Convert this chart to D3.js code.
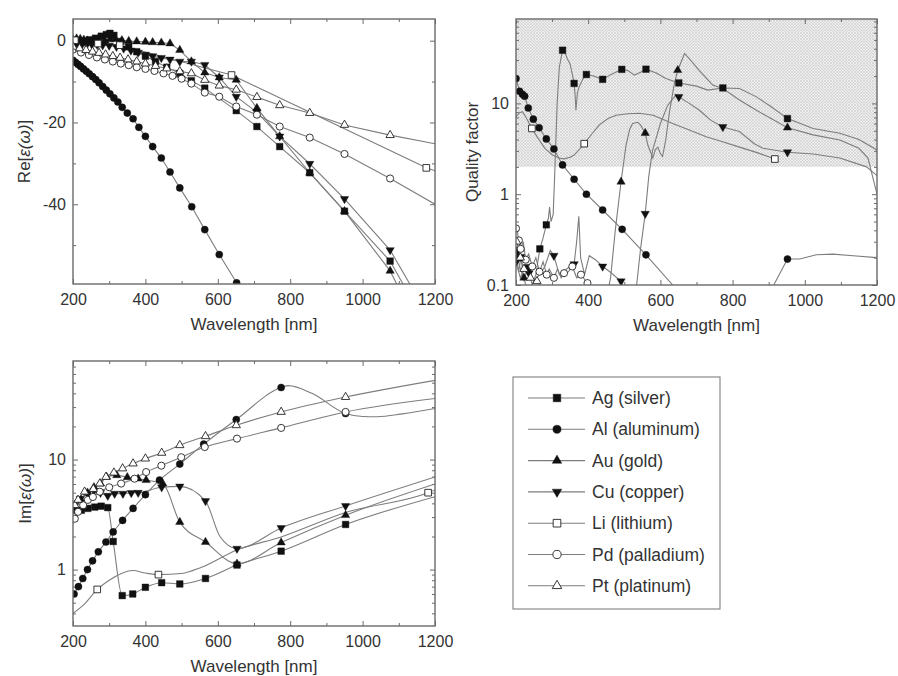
<!DOCTYPE html>
<html>
<head>
<meta charset="utf-8">
<script src="https://cdn.jsdelivr.net/npm/d3@7"></script>
<style>
  body { margin: 0; background: #fff; }
  svg text { font-family: "Liberation Sans", Arial, Helvetica, sans-serif; fill: #333; }
</style>
</head>
<body>
<svg id="chart" width="898" height="676"></svg>
<script>
// ---- labels & ticks ----
const metals = ["Ag (silver)", "Al (aluminum)", "Au (gold)", "Cu (copper)", "Li (lithium)", "Pd (palladium)", "Pt (platinum)"];
const symbols = ["square", "circle", "triangle", "triangleDown", "squareOpen", "circleOpen", "triangleOpen"];
const wavelengthTicks = [200, 400, 600, 800, 1000, 1200];
const reTicks = [0, -20, -40];
const qTicks = [0.1, 1, 10];
const imTicks = [1, 10];

// ---- Re[eps] : markers (mk) and extra line points (ex) ----
const reAgMk = [[200,-0.6],[214,-0.4],[229,-0.1],[245,0.2],[262,0.6],[278,1.1],[292,1.5],[302,1.8],[313,1.3],[330,-0.2],[354,-1.5],[376,-2.7],[400,-3.8],[428,-5.1],[459,-6.5],[495,-8.0],[527,-9.8],[564,-11.6],[651,-17.1],[708,-21.0],[771,-25.9],[854,-32.3],[950,-41.7],[1076,-53.9]];
const reAgEx = [[1140,-64]];
const reAlMk = [[200,-4.8],[207,-5.3],[214,-5.8],[221,-6.3],[229,-6.9],[237,-7.5],[245,-8.1],[254,-8.8],[263,-9.5],[272,-10.3],[282,-11.2],[292,-12.1],[302,-13.0],[313,-14.0],[324,-15.0],[336,-16.3],[350,-17.7],[366,-19.1],[382,-21.2],[400,-23.4],[420,-25.9],[444,-28.7],[468,-32.1],[495,-36.0],[528,-40.6],[564,-46.2],[604,-52.3],[652,-59.2]];
const reAlEx = [[700,-68]];
const reAuMk = [[200,0.3],[210,0.5],[220,0.4],[230,0.2],[240,0.0],[250,-0.2],[262,-0.3],[275,-0.2],[288,0.0],[302,0.3],[317,0.4],[335,0.1],[354,-0.1],[376,-0.2],[400,-0.3],[420,-0.4],[444,-0.5],[468,-0.7],[495,-2.3],[527,-5.1],[564,-7.8],[604,-9.0],[651,-9.6],[708,-16.5],[771,-23.4],[854,-32.3],[950,-41.7],[1076,-56.3]];
const reAuEx = [[1120,-64]];
const reCuMk = [[200,-0.9],[212,-0.8],[225,-0.9],[238,-1.0],[252,-0.9],[267,-1.0],[282,-1.1],[300,-1.2],[320,-1.5],[340,-1.9],[360,-2.4],[380,-2.9],[400,-3.4],[420,-3.8],[444,-4.2],[468,-4.6],[495,-5.1],[527,-5.1],[564,-5.9],[604,-9.0],[651,-13.7],[708,-17.5],[771,-23.4],[854,-30.1],[950,-38.7],[1076,-51.2]];
const reCuEx = [[1160,-64]];
const reLiMk = [[205,0.1],[269,-0.7],[329,-1.1],[638,-8.4],[1176,-31.1]];
const reLiEx = [[1200,-31.8]];
const rePdMk = [[200,-2.2],[222,-2.9],[244,-3.5],[266,-4.1],[288,-4.6],[310,-5.1],[332,-5.6],[354,-6.0],[376,-6.5],[400,-6.9],[425,-7.4],[450,-8.0],[475,-8.6],[500,-9.3],[527,-10.5],[564,-12.7],[604,-13.7],[651,-16.1],[708,-18.1],[771,-21.0],[854,-23.7],[950,-27.7],[1076,-33.7]];
const rePdEx = [[1200,-40.0]];
const rePtMk = [[200,-1.5],[218,-1.9],[236,-2.3],[254,-2.7],[272,-3.0],[290,-3.4],[310,-3.8],[330,-4.2],[352,-4.6],[376,-5.1],[400,-5.6],[428,-6.2],[459,-6.8],[495,-7.5],[527,-8.0],[564,-9.6],[604,-11.0],[651,-12.0],[708,-13.8],[771,-15.8],[854,-17.7],[950,-20.6],[1076,-23.1]];
const rePtEx = [[1200,-25.2]];

// ---- Quality factor ----
const qAgMk = [[200,0.24],[214,0.2],[232,0.155],[266,0.25],[284,0.46],[329,38.5],[361,16.6],[395,20.8],[440,18.4],[493,23.7],[560,23.8],[651,16.8],[773,14.8],[952,6.8]];
const qAgEx = [[207,0.14],[222,0.11],[245,0.1],[255,0.13],[275,0.33],[290,0.55],[293,0.72],[297,0.5],[303,0.6],[308,2],[314,10],[320,25],[336,36],[342,31],[350,27],[357,20],[364,12],[366,8.4],[370,13],[375,15.2],[385,18.5],[415,20],[465,21],[510,23],[528,20.5],[545,22],[590,21.5],[615,18.8],[700,15.5],[731,14.0],[819,14.6],[866,11.8],[910,9],[1023,5.3],[1097,4.7],[1150,4.0],[1200,3.07]];
const qAlMk = [[200,18.8],[210,13.6],[218,12.6],[224,12.0],[234,8.9],[248,6.7],[264,5.4],[284,4.06],[305,3.15],[329,2.1],[361,1.46],[395,1.0],[440,0.67],[494,0.41],[560,0.215],[952,0.193]];
const qAlEx = [[634,0.1],[660,0.07],[880,0.07],[914,0.1],[986,0.193],[1032,0.215],[1078,0.219],[1134,0.21],[1200,0.2]];
const qAuMk = [[205,0.2],[222,0.12],[491,1.37],[558,4.7],[648,23.2],[952,5.4]];
const qAuEx = [[200,0.25],[212,0.15],[230,0.09],[450,0.07],[462,0.12],[475,0.4],[505,3.5],[515,5.2],[523,6.0],[537,6.2],[545,5.8],[565,3.5],[579,2.5],[586,3.1],[593,3.3],[600,2.8],[606,2.6],[615,4],[625,8],[638,16],[667,35.5],[690,28],[708,23],[745,15.9],[773,14.6],[819,10.9],[866,8.4],[1023,4.5],[1097,3.95],[1150,3.2],[1175,2.5],[1200,1.0]];
const qCuMk = [[200,0.18],[236,0.135],[305,0.21],[361,0.17],[440,0.16],[491,0.11],[558,0.61],[651,11.8],[773,5.5],[952,2.9]];
const qCuEx = [[212,0.12],[222,0.15],[250,0.11],[265,0.13],[280,0.16],[295,0.24],[320,0.13],[340,0.15],[368,0.3],[374,0.57],[379,0.2],[390,0.13],[403,0.21],[420,0.19],[460,0.14],[505,0.08],[530,0.07],[545,0.25],[568,1.6],[578,3.0],[600,6],[620,9.5],[644,12.5],[680,10],[708,8.4],[740,6.5],[819,4.9],[860,3.6],[884,3.2],[1023,2.77],[1097,2.5],[1171,2.0],[1200,1.6]];
const qLiMk = [[244,5.3],[389,3.6],[917,2.44]];
const qLiEx = [[200,7.1],[210,7.9],[218,8.1],[228,7.0],[260,4.2],[280,3.2],[301,2.7],[320,2.5],[333,2.45],[350,2.55],[361,2.7],[375,3.1],[410,4.6],[431,5.8],[455,6.8],[477,7.4],[510,7.7],[542,7.8],[580,7.4],[634,6.0],[680,5.1],[727,4.3],[770,3.8],[819,3.3],[870,2.85]];
const qPdMk = [[200,0.42],[208,0.31],[213,0.25],[227,0.19],[245,0.16],[265,0.14],[285,0.13],[305,0.12],[333,0.135],[356,0.16],[380,0.13],[398,0.105]];
const qPdEx = [[204,0.38],[220,0.3],[235,0.22],[255,0.2],[275,0.18],[292,0.15],[315,0.15],[325,0.12],[345,0.14],[368,0.12],[415,0.09],[430,0.07]];
const qPtMk = [[202,0.3],[212,0.2],[222,0.15],[240,0.12],[258,0.11]];
const qPtEx = [[275,0.09],[290,0.07]];

// ---- Im[eps] ----
const imAgMk = [[205,3.46],[223,3.46],[241,3.6],[260,3.7],[278,3.77],[296,3.66],[311,1.8],[336,0.58],[365,0.6],[400,0.69],[445,0.76],[495,0.74],[566,0.83],[653,1.1],[775,1.47],[953,2.57]];
const imAgEx = [[200,3.2],[1200,4.6]];
const imAlMk = [[203,0.6],[215,0.7],[227,0.83],[240,1.0],[254,1.2],[270,1.45],[291,1.78],[311,2.2],[337,2.8],[366,3.6],[400,4.8],[439,6.5],[495,9.1],[561,13.8],[651,23.1],[775,45.2],[953,26.2]];
const imAlEx = [[200,0.57],[795,47],[860,40],[1000,24.6],[1040,24.5],[1110,26],[1200,29.1]];
const imAuMk = [[205,3.6],[222,4.3],[240,5.0],[258,5.6],[276,6.05],[293,6.95],[321,7.2],[350,6.9],[380,6.7],[402,6.5],[448,6.05],[495,2.7],[566,1.78],[653,1.13],[775,1.76],[953,3.12]];
const imAuEx = [[200,3.3],[1200,6.0]];
const imCuMk = [[205,3.8],[220,4.4],[240,4.9],[258,5.2],[276,5.0],[296,4.7],[315,4.9],[338,4.9],[361,4.98],[380,5.0],[445,5.6],[495,5.7],[566,4.2],[653,1.55],[775,2.39],[953,3.79]];
const imCuEx = [[200,3.6],[606,2.0],[1200,6.95]];
const imLiMk = [[267,0.66],[436,0.9],[1181,5.0]];
const imLiEx = [[200,0.4],[230,0.48],[300,0.8],[366,0.98],[400,0.93],[500,0.92],[555,1.05],[651,1.5],[775,1.98],[953,3.3],[1200,5.3]];
const imPdMk = [[205,2.9],[214,3.35],[228,3.85],[241,4.3],[255,4.57],[274,5.1],[300,5.6],[333,6.05],[370,6.7],[402,7.7],[444,8.8],[499,10.5],[564,13.0],[653,15.5],[775,19.4],[953,27.1]];
const imPdEx = [[200,2.6],[1200,35.9]];
const imPtMk = [[205,3.85],[214,4.3],[232,5.1],[256,5.4],[274,6.05],[291,6.95],[313,7.6],[337,8.3],[366,9.2],[400,10.2],[445,11.5],[495,13.5],[566,16.3],[651,20.5],[775,27.1],[953,37]];
const imPtEx = [[200,3.6],[1200,52.5]];

const reSeries = [[reAgMk, reAgEx], [reAlMk, reAlEx], [reAuMk, reAuEx], [reCuMk, reCuEx], [reLiMk, reLiEx], [rePdMk, rePdEx], [rePtMk, rePtEx]];
const qSeries = [[qAgMk, qAgEx], [qAlMk, qAlEx], [qAuMk, qAuEx], [qCuMk, qCuEx], [qLiMk, qLiEx], [qPdMk, qPdEx], [qPtMk, qPtEx]];
const imSeries = [[imAgMk, imAgEx], [imAlMk, imAlEx], [imAuMk, imAuEx], [imCuMk, imCuEx], [imLiMk, imLiEx], [imPdMk, imPdEx], [imPtMk, imPtEx]];

const svg = d3.select("#chart");
const defs = svg.append("defs");

// fine cross hatch for the Q > 2 band
const hatch = defs.append("pattern")
    .attr("id", "hatch")
    .attr("width", 3)
    .attr("height", 3)
    .attr("patternUnits", "userSpaceOnUse");
hatch.append("rect").attr("width", 3).attr("height", 3).attr("fill", "#efefef");
hatch.append("path").attr("d", "M0,0L3,3M3,0L0,3").attr("stroke", "#cacaca").attr("stroke-width", 0.6);

const lineColor = "#7d7d7d";
const frameColor = "#6a6a6a";

function drawMarker(sel, kind, scale) {
    const open = kind.endsWith("Open");
    const base = kind.replace("Open", "");
    let type = d3.symbolTriangle, size = 30;
    if (base === "square") { type = d3.symbolSquare; size = 44; }
    if (base === "circle") { type = d3.symbolCircle; size = 40; }
    sel.attr("d", d3.symbol(type, size * scale * scale)())
        .attr("fill", open ? "#fff" : "#111")
        .attr("stroke", open ? "#222" : "#111")
        .attr("stroke-width", open ? 0.9 : 0.4);
    return base === "triangleDown" ? " rotate(180)" : "";
}

function drawPanel(o) {
    const x = d3.scaleLinear().domain([200, 1200]).range([o.left, o.right]);
    const y = o.y;
    const g = svg.append("g");

    defs.append("clipPath").attr("id", "clip-" + o.id)
        .append("rect")
        .attr("x", o.left).attr("y", o.top)
        .attr("width", o.right - o.left).attr("height", o.bottom - o.top);

    if (o.shadeFrom) {
        g.append("rect")
            .attr("x", o.left).attr("y", o.top)
            .attr("width", o.right - o.left)
            .attr("height", y(o.shadeFrom) - o.top)
            .attr("fill", "url(#hatch)");
    }

    // axes, ticks pointing inward
    const xMinor = d3.range(300, 1200, 200);
    const addAxis = (axis, tx, ty, labels) => {
        const a = g.append("g").attr("transform", `translate(${tx},${ty})`).call(axis);
        a.select(".domain").remove();
        a.selectAll("line").attr("stroke", frameColor).attr("stroke-width", 1);
        a.selectAll("text").attr("font-size", 16);
        if (!labels) a.selectAll("text").remove();
        return a;
    };
    addAxis(d3.axisBottom(x).tickValues(wavelengthTicks).tickSizeInner(-5).tickSizeOuter(0).tickPadding(10).tickFormat(d => String(d)), 0, o.bottom, true);
    addAxis(d3.axisBottom(x).tickValues(xMinor).tickSizeInner(-3).tickSizeOuter(0), 0, o.bottom, false);
    addAxis(d3.axisTop(x).tickValues(wavelengthTicks).tickSizeInner(-5).tickSizeOuter(0), 0, o.top, false);
    addAxis(d3.axisTop(x).tickValues(xMinor).tickSizeInner(-3).tickSizeOuter(0), 0, o.top, false);

    addAxis(d3.axisLeft(y).tickValues(o.yTicks).tickSizeInner(-5).tickSizeOuter(0).tickPadding(7).tickFormat(d => String(d)), o.left, 0, true);
    addAxis(d3.axisLeft(y).tickValues(o.yMinor).tickSizeInner(-3).tickSizeOuter(0), o.left, 0, false);
    addAxis(d3.axisRight(y).tickValues(o.yTicks).tickSizeInner(-5).tickSizeOuter(0), o.right, 0, false);
    addAxis(d3.axisRight(y).tickValues(o.yMinor).tickSizeInner(-3).tickSizeOuter(0), o.right, 0, false);

    const plot = g.append("g").attr("clip-path", `url(#clip-${o.id})`);
    const line = d3.line().x(d => x(d[0])).y(d => y(d[1])).curve(o.curve);

    o.series.forEach(([mk, ex]) => {
        const pts = mk.concat(ex).sort((a, b) => a[0] - b[0]);
        plot.append("path")
            .datum(pts)
            .attr("d", line)
            .attr("fill", "none")
            .attr("stroke", lineColor)
            .attr("stroke-width", 1.1);
    });

    o.series.forEach(([mk], i) => {
        plot.selectAll(null)
            .data(mk)
            .join("path")
            .each(function (d) {
                const sel = d3.select(this);
                const rot = drawMarker(sel, symbols[i], 1);
                sel.attr("transform", `translate(${x(d[0])},${y(d[1])})${rot}`);
            });
    });

    g.append("rect")
        .attr("x", o.left).attr("y", o.top)
        .attr("width", o.right - o.left).attr("height", o.bottom - o.top)
        .attr("fill", "none")
        .attr("stroke", frameColor)
        .attr("stroke-width", 1.4);

    // axis titles
    g.append("text")
        .attr("x", (o.left + o.right) / 2)
        .attr("y", o.bottom + 46)
        .attr("text-anchor", "middle")
        .attr("font-size", 17)
        .text("Wavelength [nm]");

    const yt = g.append("text")
        .attr("transform", `translate(${o.titleX},${(o.top + o.bottom) / 2}) rotate(-90)`)
        .attr("text-anchor", "middle")
        .attr("dominant-baseline", "central")
        .attr("font-size", 17);
    if (o.title.italic) {
        yt.append("tspan").text(o.title.pre);
        yt.append("tspan").attr("font-style", "italic").text(o.title.italic);
        yt.append("tspan").text(o.title.post);
    } else {
        yt.text(o.title.pre);
    }
}

// Re[eps]
const yRe = d3.scaleLinear().domain([-59.5, 5.3]).range([284, 19]);
drawPanel({
    id: "re", left: 73, right: 435, top: 19, bottom: 284,
    y: yRe, yTicks: reTicks, yMinor: [-50, -30, -10],
    series: reSeries, curve: d3.curveLinear,
    titleX: 24, title: { pre: "Re[", italic: "ε(ω)", post: "]" }
});

// Quality factor
const yQ = d3.scaleLog().domain([0.1, 85]).range([285, 19]);
drawPanel({
    id: "q", left: 516, right: 877, top: 19, bottom: 285,
    y: yQ, yTicks: qTicks, yMinor: yQ.ticks().filter(t => !qTicks.includes(t)),
    series: qSeries, curve: d3.curveLinear, shadeFrom: 2,
    titleX: 472, title: { pre: "Quality factor" }
});

// Im[eps]
const yIm = d3.scaleLog().domain([0.307, 78.7]).range([626, 361]);
drawPanel({
    id: "im", left: 73, right: 435, top: 361, bottom: 626,
    y: yIm, yTicks: imTicks, yMinor: yIm.ticks().filter(t => !imTicks.includes(t)),
    series: imSeries, curve: d3.curveMonotoneX,
    titleX: 25, title: { pre: "Im[", italic: "ε(ω)", post: "]" }
});

// legend
const legend = svg.append("g");
legend.append("rect")
    .attr("x", 513).attr("y", 377)
    .attr("width", 207).attr("height", 232)
    .attr("fill", "#fff")
    .attr("stroke", "#8a8a8a")
    .attr("stroke-width", 1.2);

metals.forEach((name, i) => {
    const cy = 398 + i * 31.3;
    const row = legend.append("g");
    row.append("line")
        .attr("x1", 528).attr("x2", 585)
        .attr("y1", cy).attr("y2", cy)
        .attr("stroke", lineColor).attr("stroke-width", 1.1);
    const m = row.append("path");
    const rot = drawMarker(m, symbols[i], 1.15);
    m.attr("transform", `translate(557,${cy})${rot}`);
    row.append("text")
        .attr("x", 592).attr("y", cy)
        .attr("dominant-baseline", "central")
        .attr("font-size", 17.5)
        .text(name);
});
</script>
</body>
</html>
